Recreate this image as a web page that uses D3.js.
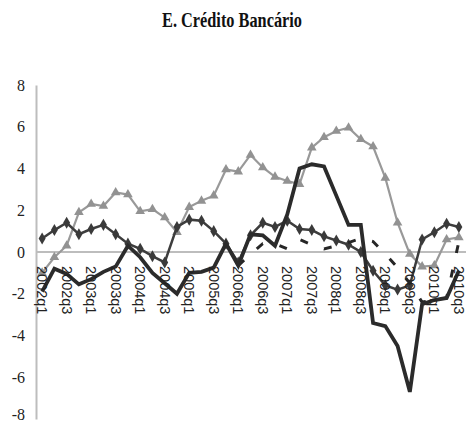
<!DOCTYPE html>
<html>
<head>
<meta charset="utf-8">
<script src="https://cdn.jsdelivr.net/npm/d3@7"></script>
<style>
  html, body { margin: 0; padding: 0; background: #fff; }
  svg { display: block; }
</style>
</head>
<body>
<div id="chart"></div>
<script>
// Quarterly categories, 2002q1 .. 2010q3
const quarters = [
  "2002q1","2002q2","2002q3","2002q4",
  "2003q1","2003q2","2003q3","2003q4",
  "2004q1","2004q2","2004q3","2004q4",
  "2005q1","2005q2","2005q3","2005q4",
  "2006q1","2006q2","2006q3","2006q4",
  "2007q1","2007q2","2007q3","2007q4",
  "2008q1","2008q2","2008q3","2008q4",
  "2009q1","2009q2","2009q3","2009q4",
  "2010q1","2010q2","2010q3"
];

// Axis labels shown on the category axis
const xTickLabels = [
  "2002q1","2002q3","2003q1","2003q3","2004q1","2004q3","2005q1","2005q3",
  "2006q1","2006q3","2007q1","2007q3","2008q1","2008q3","2009q1","2009q3",
  "2010q1","2010q3"
];
const yTicks = [-8, -6, -4, -2, 0, 2, 4, 6, 8];

// Series values
const seriesDiamond = [
  0.65, 1.05, 1.4, 0.85, 1.1, 1.3, 0.85, 0.4,
  0.15, -0.2, -0.5, 1.2, 1.55, 1.5, 1.0, 0.4,
  -0.5, 0.8, 1.4, 1.2, 1.5, 1.1, 1.05, 0.75,
  0.55, 0.35, 0.0, -0.9, -1.6, -1.8, -1.6, 0.6,
  0.95, 1.35, 1.2
];
const seriesTriangle = [
  -1.0, -0.25, 0.3, 1.9, 2.3, 2.2, 2.85, 2.75,
  1.95, 2.05, 1.65, 0.95, 2.15, 2.45, 2.7, 3.95,
  3.85, 4.65, 4.05, 3.6, 3.4, 3.25, 5.0, 5.5,
  5.8, 5.95, 5.4, 5.05, 3.55, 1.4, -0.1, -0.7,
  -0.65, 0.6, 0.7
];
const seriesSolid = [
  -1.9, -0.8, -1.05, -1.55, -1.3, -0.95, -0.7, 0.3,
  -0.25, -1.0, -1.5, -2.0, -1.0, -0.95, -0.75, 0.4,
  -0.65, 0.85, 0.8, 0.3, 1.8, 4.0, 4.2, 4.1,
  2.7, 1.3, 1.3, -3.4, -3.55, -4.5, -6.7, -2.5,
  -2.3, -2.2, -0.9
];
const seriesDashed = [
  null, null, null, null, null, null, null, null,
  null, null, null, null, null, null, null, null,
  -0.65, -0.1, 0.4, 0.4, 0.15, 0.6, 0.35, 0.15,
  0.3, 0.45, 0.65, 0.5, -0.1, -0.75, -1.5, -2.4,
  -2.3, -2.2, 0.5
];

const W = 466, H = 425;
const svg = d3.select("#chart").append("svg")
  .attr("width", W).attr("height", H);

// Title
svg.append("text")
  .attr("x", 232).attr("y", 27)
  .attr("text-anchor", "middle")
  .attr("font-family", "'Liberation Serif', 'Times New Roman', serif")
  .attr("font-weight", "bold")
  .attr("font-size", 21)
  .attr("textLength", 140)
  .attr("lengthAdjust", "spacingAndGlyphs")
  .attr("fill", "#111")
  .text("E. Crédito Bancário");

const x = d3.scaleBand().domain(quarters).range([36, 465]).padding(0);
const y = d3.scaleLinear().domain([-8, 8]).range([419, 85]);
const cx = q => x(q) + x.bandwidth() / 2;

// Value axis: vertical line and labels
const yAxis = d3.axisLeft(y).tickValues(yTicks).tickSize(0).tickPadding(11)
  .tickFormat(d => String(d));
const gy = svg.append("g").attr("transform", "translate(36,0)").call(yAxis);
gy.select(".domain").attr("stroke", "#bdbdbd").attr("stroke-width", 2);
gy.selectAll("text")
  .attr("font-family", "'Liberation Serif', 'Times New Roman', serif")
  .attr("font-size", 16)
  .attr("fill", "#222");
// keep the lowest label inside the frame
gy.selectAll(".tick").filter(d => d === -8).select("text").attr("dy", "0.05em");

// Zero line (category axis)
svg.append("line")
  .attr("x1", 36).attr("x2", 466)
  .attr("y1", y(0)).attr("y2", y(0))
  .attr("stroke", "#bdbdbd").attr("stroke-width", 2);

const line = d3.line()
  .defined(d => d.v !== null)
  .x(d => cx(d.q))
  .y(d => y(d.v));
const pts = arr => quarters.map((q, i) => ({ q, v: arr[i] }));

// Gray triangle series
svg.append("path")
  .datum(pts(seriesTriangle))
  .attr("d", line)
  .attr("fill", "none").attr("stroke", "#999").attr("stroke-width", 2.2);
svg.append("g").selectAll("path")
  .data(pts(seriesTriangle))
  .join("path")
  .attr("transform", d => `translate(${cx(d.q)},${y(d.v)})`)
  .attr("d", d3.symbol(d3.symbolTriangle, 40))
  .attr("fill", "#929292");

// Dark diamond series
svg.append("path")
  .datum(pts(seriesDiamond))
  .attr("d", line)
  .attr("fill", "none").attr("stroke", "#3d3d3d").attr("stroke-width", 2.5);
svg.append("g").selectAll("path")
  .data(pts(seriesDiamond))
  .join("path")
  .attr("transform", d => `translate(${cx(d.q)},${y(d.v)})`)
  .attr("d", d3.symbol(d3.symbolDiamond, 42))
  .attr("fill", "#3a3a3a");

// Dashed series
svg.append("path")
  .datum(pts(seriesDashed))
  .attr("d", line)
  .attr("fill", "none").attr("stroke", "#262626").attr("stroke-width", 3)
  .attr("stroke-dasharray", "8,17");

// Thick solid series
svg.append("path")
  .datum(pts(seriesSolid))
  .attr("d", line)
  .attr("fill", "none").attr("stroke", "#2b2b2b").attr("stroke-width", 3.8)
  .attr("stroke-linejoin", "miter");

// Category labels, rotated, placed under the zero line
svg.append("g").selectAll("text")
  .data(xTickLabels)
  .join("text")
  .attr("transform", d => `translate(${cx(d)},${y(0) + 14}) rotate(90)`)
  .attr("dy", "0.35em")
  .attr("text-anchor", "start")
  .attr("font-family", "'Liberation Sans', Arial, sans-serif")
  .attr("font-size", 14.5)
  .attr("fill", "#222")
  .text(d => d);
</script>
</body>
</html>
